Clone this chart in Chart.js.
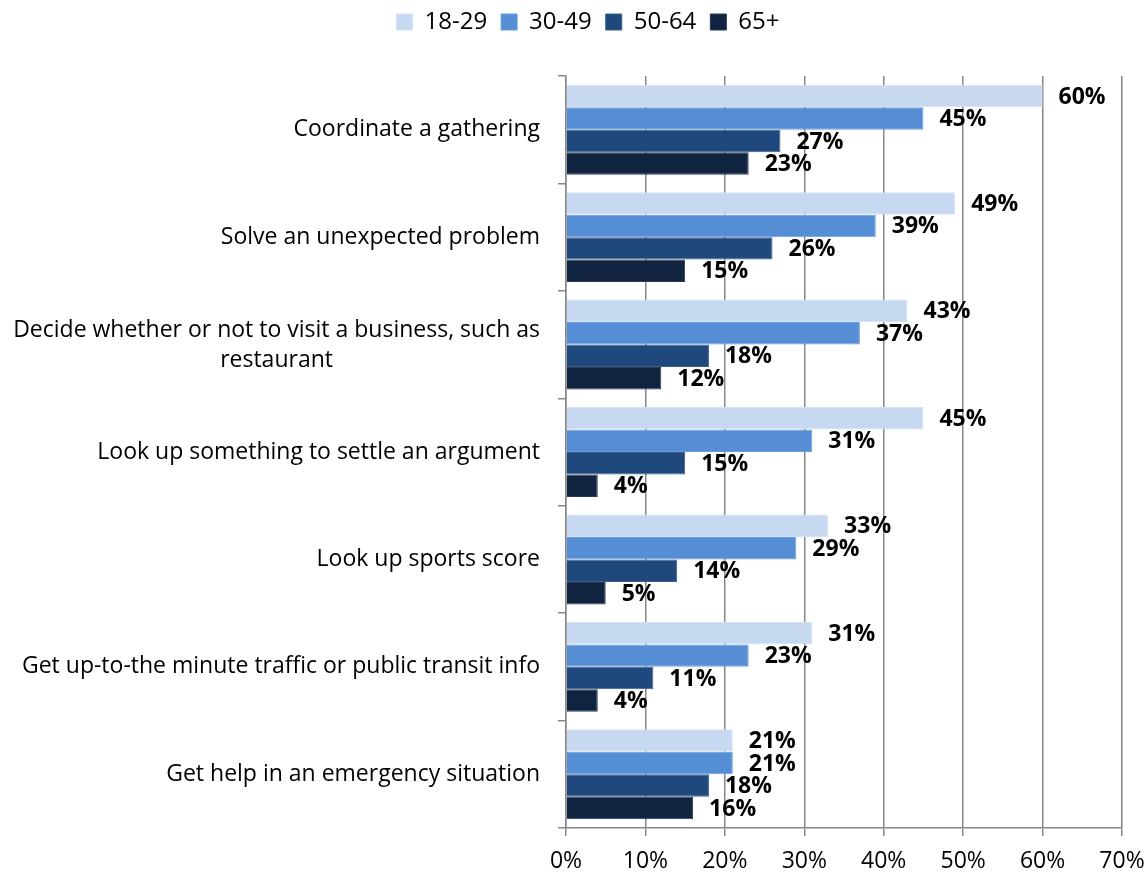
<!DOCTYPE html>
<html>
<head>
<meta charset="utf-8">
<script src="https://cdn.jsdelivr.net/npm/chart.js@4/dist/chart.umd.min.js"></script>
<style>
  html, body { margin: 0; padding: 0; background: #fff; }
  #wrap { width: 1148px; height: 873px; }
</style>
</head>
<body>
<div id="wrap"><canvas id="chart" width="1148" height="873"></canvas></div>
<script>
// categories, one per group (multi-line labels as arrays)
const categories = [
    'Coordinate a gathering',
    'Solve an unexpected problem',
    ['Decide whether or not to visit a business, such as', 'restaurant'],
    'Look up something to settle an argument',
    'Look up sports score',
    'Get up-to-the minute traffic or public transit info',
    'Get help in an emergency situation'
];
const seriesNames = ['18-29', '30-49', '50-64', '65+'];
const age18to29 = [60, 49, 43, 45, 33, 31, 21];
const age30to49 = [45, 39, 37, 31, 29, 23, 21];
const age50to64 = [27, 26, 18, 15, 14, 11, 18];
const age65plus = [23, 15, 12, 4, 5, 4, 16];
const xTicks = [0, 10, 20, 30, 40, 50, 60, 70];

const colors = ['#C6D9F1', '#558ED5', '#1F497D', '#10243F'];
const borders = ['#D4E2F4', '#6A9DDB', '#3A5F8E', '#2A3B55'];
const gridColor = '#878787';
const fontFamily = '"Open Sans", "Liberation Sans", sans-serif';

// draws "NN%" just past the end of each bar
const valueLabels = {
    id: 'valueLabels',
    afterDatasetsDraw(chart) {
        const ctx = chart.ctx;
        ctx.save();
        ctx.font = 'bold 23px ' + fontFamily;
        ctx.fillStyle = '#000';
        ctx.textAlign = 'left';
        ctx.textBaseline = 'middle';
        chart.data.datasets.forEach((ds, di) => {
            chart.getDatasetMeta(di).data.forEach((bar, i) => {
                ctx.fillText(ds.data[i] + '%', bar.x + 16, bar.y + 1);
            });
        });
        ctx.restore();
    }
};

// category labels: right aligned, extra lines centred on the widest one
const categoryLabels = {
    id: 'categoryLabels',
    afterDraw(chart) {
        const ctx = chart.ctx;
        const yScale = chart.scales.y;
        const right = 540;
        const lineHeight = 30;
        ctx.save();
        ctx.font = '23px ' + fontFamily;
        ctx.fillStyle = '#000';
        ctx.textBaseline = 'middle';
        categories.forEach((cat, i) => {
            const lines = Array.isArray(cat) ? cat : [cat];
            const y = yScale.getPixelForValue(i);
            const widest = Math.max(...lines.map(l => ctx.measureText(l).width));
            const top = y - (lines.length - 1) * lineHeight / 2 + 1;
            lines.forEach((line, li) => {
                if (lines.length === 1) {
                    ctx.textAlign = 'right';
                    ctx.fillText(line, right, y);
                } else {
                    ctx.textAlign = 'center';
                    ctx.fillText(line, right - widest / 2, top + li * lineHeight);
                }
            });
        });
        ctx.restore();
    }
};

// pull the legend up to the top edge, leave the plot where it is
const legendShift = {
    id: 'legendShift',
    afterLayout(chart) {
        const lg = chart.legend;
        const dy = lg.top + 4;
        lg.top -= dy;
        lg.bottom -= dy;
        lg.left += 27;
        lg.right += 27;
    }
};

const seriesData = [age18to29, age30to49, age50to64, age65plus];

new Chart(document.getElementById('chart'), {
    type: 'bar',
    data: {
        labels: categories,
        datasets: seriesNames.map((name, i) => ({
            label: name,
            data: seriesData[i],
            backgroundColor: colors[i],
            borderColor: borders[i],
            borderWidth: 1,
            barPercentage: 1,
            categoryPercentage: 0.837
        }))
    },
    options: {
        indexAxis: 'y',
        responsive: false,
        animation: false,
        layout: { padding: { top: 28, right: 26, bottom: 0, left: 0 } },
        scales: {
            x: {
                min: 0,
                max: 70,
                afterBuildTicks: scale => { scale.ticks = xTicks.map(v => ({ value: v })); },
                afterFit: scale => {
                    scale.height = 45;
                    scale.paddingLeft = 0;
                    scale.paddingRight = 0;
                },
                ticks: {
                    callback: v => v + '%',
                    color: '#000',
                    padding: 12,
                    font: { family: fontFamily, size: 23 }
                },
                grid: { color: gridColor, lineWidth: 1.5, tickLength: 8 },
                border: { color: gridColor, width: 1.5 }
            },
            y: {
                afterFit: scale => { scale.width = 566; },
                ticks: { display: false },
                grid: { offset: true, drawOnChartArea: false, color: gridColor, lineWidth: 1.5, tickLength: 8 },
                border: { color: gridColor, width: 1.5 }
            }
        },
        plugins: {
            legend: {
                position: 'top',
                labels: {
                    boxWidth: 16,
                    boxHeight: 16,
                    padding: 14,
                    color: '#000',
                    font: { family: fontFamily, size: 24 }
                }
            },
            tooltip: { enabled: false }
        }
    },
    plugins: [valueLabels, categoryLabels, legendShift]
});
</script>
</body>
</html>
